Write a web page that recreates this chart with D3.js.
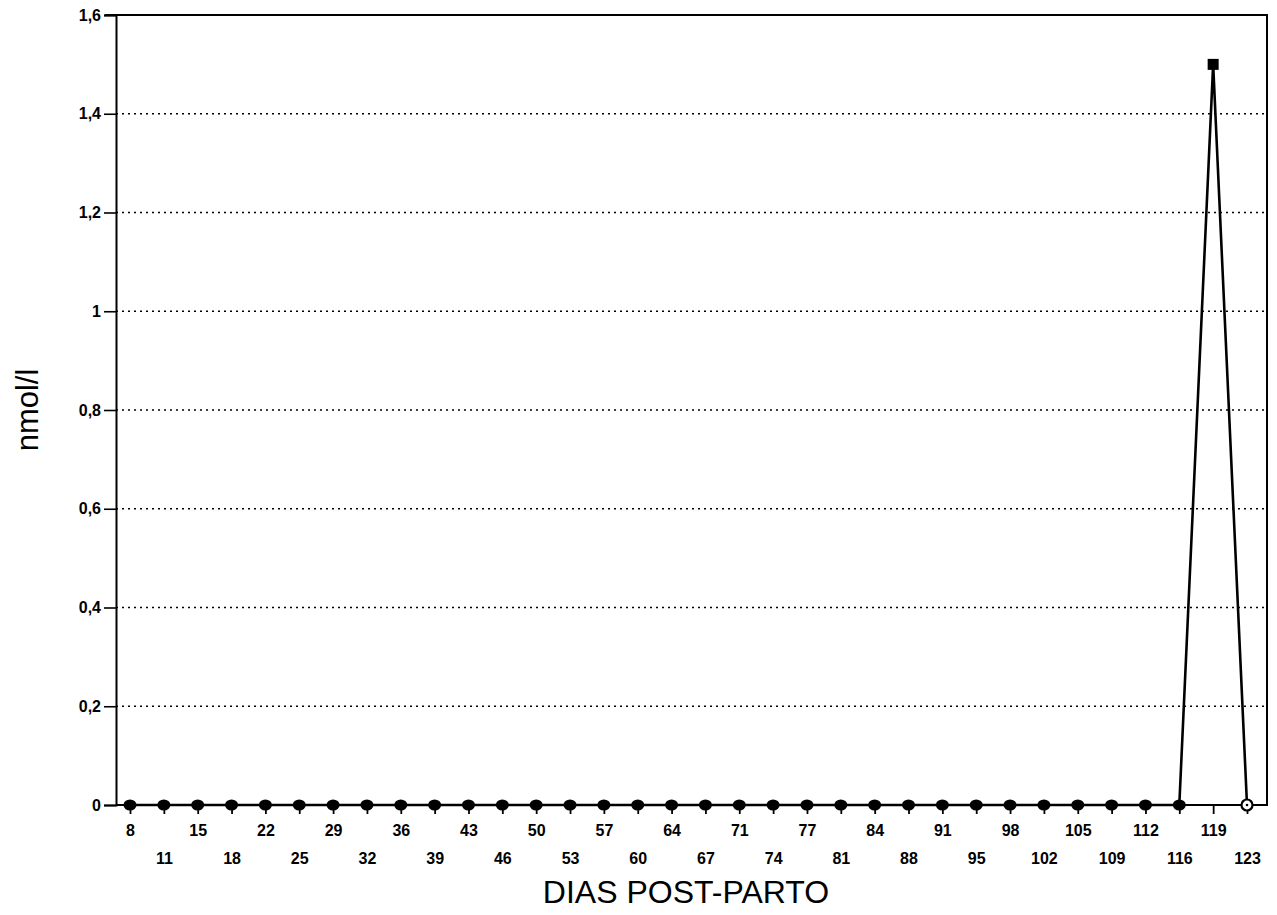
<!DOCTYPE html>
<html>
<head>
<meta charset="utf-8">
<script src="https://cdn.jsdelivr.net/npm/d3@7"></script>
<style>
  html, body { margin: 0; padding: 0; background: #fff; }
  svg { display: block; }
  text { font-family: "Liberation Sans", Arial, sans-serif; fill: #000; }
</style>
</head>
<body>
<svg id="chart" width="1277" height="915"></svg>
<script>
// Days post-partum (x categories)
const days = ["8","11","15","18","22","25","29","32","36","39","43","46","50","53","57","60",
  "64","67","71","74","77","81","84","88","91","95","98","102","105","109","112","116","119","123"];
// Concentration, nmol/l
const values = [0,0,0,0,0,0,0,0,0,0,0,0,0,0,0,0,
  0,0,0,0,0,0,0,0,0,0,0,0,0,0,0,0,1.5,0];
// Y ticks
const yTicks = [0, 0.2, 0.4, 0.6, 0.8, 1, 1.2, 1.4, 1.6];

const svg = d3.select("#chart");
const plotLeft = 116, plotRight = 1267, plotTop = 15, plotBottom = 805;

const x = d3.scalePoint().domain(days).range([130, 1247]);
const y = d3.scaleLinear().domain([0, 1.6]).range([plotBottom, plotTop]);
const fmt = v => String(v).replace(".", ",");

// dotted gridlines
svg.append("g").selectAll("line")
  .data(yTicks.filter(t => t > 0 && t < 1.6))
  .join("line")
  .attr("x1", plotLeft).attr("x2", plotRight)
  .attr("y1", d => y(d)).attr("y2", d => y(d))
  .attr("stroke", "#000").attr("stroke-width", 1.5)
  .attr("stroke-dasharray", "2,4");

// y axis
const yAxis = d3.axisLeft(y).tickValues(yTicks).tickFormat(fmt).tickSize(12).tickPadding(3);
const gy = svg.append("g").attr("transform", `translate(${plotLeft},0)`).call(yAxis);
gy.select(".domain").attr("stroke-width", 2);
gy.selectAll(".tick line").attr("stroke-width", 1.6);
gy.selectAll(".tick text").attr("font-size", 16).attr("font-weight", "bold")
  .style("font-family", "'Liberation Sans', Arial, sans-serif");

// x axis
const xAxis = d3.axisBottom(x).tickSize(9).tickFormat("");
const gx = svg.append("g").attr("transform", `translate(0,${plotBottom})`).call(xAxis);
gx.select(".domain").remove();
gx.selectAll(".tick line").attr("stroke-width", 1.8);
gx.selectAll(".tick").append("text")
  .attr("y", (d, i) => i % 2 === 0 ? 31 : 59)
  .attr("text-anchor", "middle")
  .attr("font-size", 16).attr("font-weight", "bold")
  .text(d => d);

// frame
svg.append("path")
  .attr("d", `M${plotLeft - 11},${plotTop}H${plotRight}V${plotBottom}H${plotLeft}`)
  .attr("fill", "none").attr("stroke", "#000").attr("stroke-width", 2);

// series line
const pts = days.map((d, i) => ({ d, v: values[i] }));
const line = d3.line().x(p => x(p.d)).y(p => y(p.v));
svg.append("path").datum(pts)
  .attr("d", line)
  .attr("fill", "none").attr("stroke", "#000").attr("stroke-width", 2.6)
  .attr("stroke-linejoin", "round");

// markers
const vmax = d3.max(values);
const g = svg.append("g");
pts.forEach((p, i) => {
  const cx = x(p.d), cy = y(p.v);
  if (p.v === vmax && vmax > 0) {
    g.append("rect").attr("x", cx - 5.5).attr("y", cy - 5.5).attr("width", 11).attr("height", 11)
      .attr("fill", "#000");
  } else if (i === pts.length - 1) {
    g.append("circle").attr("cx", cx).attr("cy", cy).attr("r", 5.5)
      .attr("fill", "#fff").attr("stroke", "#000").attr("stroke-width", 2.2);
    g.append("circle").attr("cx", cx).attr("cy", cy).attr("r", 1.3).attr("fill", "#000");
  } else {
    g.append("ellipse").attr("cx", cx).attr("cy", cy).attr("rx", 6.5).attr("ry", 5.5)
      .attr("fill", "#000");
  }
});

// axis titles
svg.append("text")
  .attr("transform", `translate(38,${(plotTop + plotBottom) / 2}) rotate(-90)`)
  .attr("text-anchor", "middle")
  .attr("font-size", 31)
  .text("nmol/l");

svg.append("text")
  .attr("x", 686).attr("y", 903)
  .attr("text-anchor", "middle")
  .attr("font-size", 32)
  .text("DIAS POST-PARTO");
</script>
</body>
</html>
